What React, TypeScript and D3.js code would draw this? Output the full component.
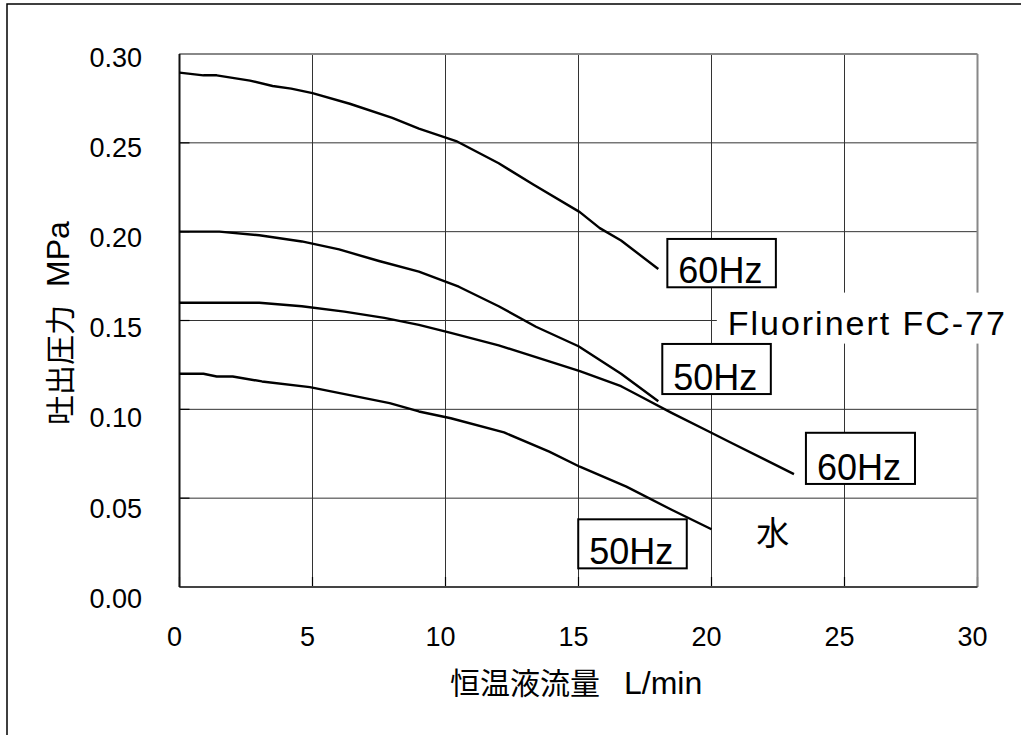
import React from "react";
import * as d3 from "d3";

// Flow rate (L/min) and discharge pressure (MPa)
const fc60Flow = [0, 0.9, 1.4, 2.65, 3.5, 4.2, 5, 6.4, 8, 9, 10.4, 12, 13.3, 15.05, 15.8, 16.6, 18.0];
const fc60Pres = [0.2895, 0.288, 0.288, 0.285, 0.282, 0.2805, 0.278, 0.272, 0.264, 0.258, 0.251, 0.2385, 0.2265, 0.211, 0.202, 0.195, 0.179];

const fc50Flow = [0, 1.5, 3, 4.6, 6, 7.5, 9, 10.5, 12, 13.4, 15, 16.6, 18.0];
const fc50Pres = [0.2, 0.2, 0.198, 0.1945, 0.19, 0.1835, 0.1775, 0.169, 0.158, 0.1465, 0.1355, 0.12, 0.1045];

const w60Flow = [0, 3, 4.6, 6.2, 7.7, 9, 10.2, 12, 13.9, 15.05, 16.6, 17.3, 18.5, 19.9, 20.7, 23.1];
const w60Pres = [0.16, 0.16, 0.158, 0.155, 0.1515, 0.1475, 0.143, 0.136, 0.127, 0.1215, 0.113, 0.1075, 0.098, 0.0875, 0.0815, 0.0635];

const w50Flow = [0, 0.9, 1.4, 2.0, 3.1, 4.9, 6.4, 7.9, 9.0, 10.2, 12.2, 13.9, 15.05, 16.8, 18.5, 20.0];
const w50Pres = [0.12, 0.12, 0.1185, 0.1185, 0.1157, 0.1125, 0.108, 0.1035, 0.0988, 0.095, 0.087, 0.0762, 0.0677, 0.0565, 0.0435, 0.0325];

const xTicks = [0, 5, 10, 15, 20, 25, 30];
const yTicks = [0, 0.05, 0.1, 0.15, 0.2, 0.25, 0.3];
const yTickLabels = ["0.00", "0.05", "0.10", "0.15", "0.20", "0.25", "0.30"];

const xTitleJa = "恒温液流量";
const xTitleUnit = "L/min";
const yTitleJa = "吐出圧力";
const yTitleUnit = "MPa";
const fluidLabel = "Fluorinert FC-77";
const waterLabel = "水";
const hzLabels = ["60Hz", "50Hz", "60Hz", "50Hz"];
// box corners in data units: [x0, x1, yTop, yBottom]
const hzBoxes = [
  [18.34, 22.42, 0.1959, 0.1687],
  [18.15, 22.23, 0.1368, 0.1086],
  [23.55, 27.65, 0.0868, 0.058],
  [14.99, 19.07, 0.0381, 0.0105],
];

const LATIN = "'Liberation Sans', Arial, sans-serif";
const CJK = "'Noto Sans CJK JP', 'Liberation Sans', sans-serif";

export default function App() {
  const W = 1021, H = 735;
  const x = d3.scaleLinear().domain([0, 30]).range([179.5, 977.5]);
  const y = d3.scaleLinear().domain([0, 0.3]).range([587, 54]);
  // tick-label centres in the original are spread slightly wider than the grid
  const yLab = d3.scaleLinear().domain([0, 0.3]).range([598, 57]);
  const line = d3
    .line<[number, number]>()
    .x((d) => x(d[0]))
    .y((d) => y(d[1]))
    .curve(d3.curveLinear);

  const series = [
    d3.zip(fc60Flow, fc60Pres),
    d3.zip(fc50Flow, fc50Pres),
    d3.zip(w60Flow, w60Pres),
    d3.zip(w50Flow, w50Pres),
  ] as [number, number][][];

  const [x0, x1] = x.range();
  const [y0, y1] = y.range();

  return (
    <svg
      width={W}
      height={H}
      style={{ position: "absolute", left: 0, top: 0, background: "#fff" }}
    >
      <rect x={0} y={0} width={W} height={H} fill="#fff" />
      <rect x={7} y={4} width={1200} height={900} fill="none" stroke="#000" strokeWidth={1.5} />

      {/* grid */}
      {xTicks.slice(1, -1).map((t) => (
        <line key={"gx" + t} x1={x(t)} x2={x(t)} y1={y1} y2={y0} stroke="#333" strokeWidth={1} />
      ))}
      {yTicks.slice(1, -1).map((t) => (
        <line key={"gy" + t} x1={x0} x2={x1} y1={y(t)} y2={y(t)} stroke="#333" strokeWidth={1} />
      ))}
      {/* tick marks */}
      {yTicks.map((t) => (
        <line key={"ty" + t} x1={x0} x2={x0 + 10} y1={y(t)} y2={y(t)} stroke="#000" strokeWidth={1.2} />
      ))}
      {xTicks.map((t) => (
        <line key={"tx" + t} x1={x(t)} x2={x(t)} y1={y0} y2={y0 - 10} stroke="#000" strokeWidth={1.2} />
      ))}
      {/* plot border */}
      <line x1={x0} x2={x1} y1={y1} y2={y1} stroke="#888" strokeWidth={2} />
      <line x1={x1} x2={x1} y1={y1} y2={y0} stroke="#888" strokeWidth={2} />
      <line x1={x0} x2={x1} y1={y0} y2={y0} stroke="#444" strokeWidth={2} />
      <line x1={x0} x2={x0} y1={y1} y2={y0} stroke="#111" strokeWidth={2} />

      {/* curves */}
      {series.map((s, i) => (
        <path key={"s" + i} d={line(s) || ""} fill="none" stroke="#000" strokeWidth={2.4} strokeLinejoin="round" />
      ))}

      {/* Fluorinert label with white background */}
      <rect x={x(20.2)} y={y(0.1657)} width={300} height={51} fill="#fff" />
      <text x={x(20.2) + 11} y={y(0.1657) + 42.5} fontFamily={LATIN} fontSize={34} textLength={277} lengthAdjust="spacing" fill="#000">
        {fluidLabel}
      </text>

      {/* Hz boxes */}
      {hzBoxes.map((b, i) => {
        const bx = x(b[0]);
        const bw = x(b[1]) - x(b[0]);
        const by = y(b[2]);
        const bh = y(b[3]) - y(b[2]);
        return (
          <g key={"hz" + i}>
            <rect x={bx} y={by} width={bw} height={bh} fill="#fff" stroke="#000" strokeWidth={2} />
            <text x={bx + 11} y={by + bh - 4} fontFamily={LATIN} fontSize={36} fill="#000">
              {hzLabels[i]}
            </text>
          </g>
        );
      })}

      <text x={x(22.3)} y={y(0.0237)} textAnchor="middle" fontFamily={CJK} fontSize={33} fill="#000">
        {waterLabel}
      </text>

      {/* tick labels */}
      {yTicks.map((t, i) => (
        <text key={"ly" + t} x={142} y={yLab(t) + 9.7} textAnchor="end" fontFamily={LATIN} fontSize={27} fill="#000">
          {yTickLabels[i]}
        </text>
      ))}
      {xTicks.map((t) => (
        <text key={"lx" + t} x={x(t) - 5} y={645.5} textAnchor="middle" fontFamily={LATIN} fontSize={27} fill="#000">
          {t}
        </text>
      ))}

      {/* axis titles */}
      <text x={450} y={694} fontFamily={CJK} fontSize={30} fill="#000">
        {xTitleJa}
        <tspan dx={24} fontFamily={LATIN} fontSize={32}>{xTitleUnit}</tspan>
      </text>
      <text
        transform={`translate(58, 425) rotate(-90)`}
        x={0}
        y={0}
        dominantBaseline="central"
        fontFamily={CJK}
        fontSize={30}
        fill="#000"
      >
        {yTitleJa}
        <tspan dx={18} fontFamily={LATIN} fontSize={32}>{yTitleUnit}</tspan>
      </text>
    </svg>
  );
}
